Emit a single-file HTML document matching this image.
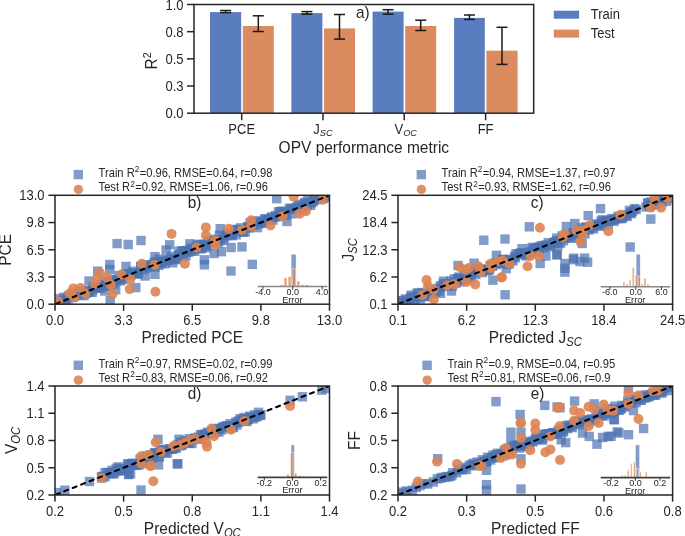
<!DOCTYPE html>
<html><head><meta charset="utf-8"><style>
html,body{margin:0;padding:0;background:#fff;}
svg{display:block;will-change:transform;}
text{font-family:"Liberation Sans", sans-serif;fill:#262626;}
</style></head><body>
<svg width="685" height="536" viewBox="0 0 685 536">
<defs><clipPath id="clipb"><rect x="55.0" y="195.3" width="274.50" height="108.90"/></clipPath><clipPath id="clipc"><rect x="398.0" y="195.3" width="274.60" height="108.90"/></clipPath><clipPath id="clipd"><rect x="55.0" y="386.0" width="274.50" height="109.00"/></clipPath><clipPath id="clipe"><rect x="398.0" y="386.0" width="274.60" height="109.00"/></clipPath></defs>
<rect width="685" height="536" fill="#fff"/>
<rect x="210.00" y="12.10" width="31.20" height="101.10" fill="#597DBF" />
<rect x="242.80" y="26.00" width="31.00" height="87.20" fill="#DA8B5F" />
<rect x="291.40" y="13.10" width="31.00" height="100.10" fill="#597DBF" />
<rect x="324.00" y="28.40" width="31.00" height="84.80" fill="#DA8B5F" />
<rect x="372.60" y="11.60" width="31.00" height="101.60" fill="#597DBF" />
<rect x="405.20" y="26.00" width="31.00" height="87.20" fill="#DA8B5F" />
<rect x="454.10" y="17.90" width="30.70" height="95.30" fill="#597DBF" />
<rect x="486.40" y="50.70" width="31.20" height="62.50" fill="#DA8B5F" />
<line x1="225.60" y1="10.50" x2="225.60" y2="12.60" stroke="#1a1a1a" stroke-width="1.5" />
<line x1="220.10" y1="10.50" x2="231.10" y2="10.50" stroke="#1a1a1a" stroke-width="1.5" />
<line x1="220.10" y1="12.60" x2="231.10" y2="12.60" stroke="#1a1a1a" stroke-width="1.5" />
<line x1="258.30" y1="15.80" x2="258.30" y2="31.50" stroke="#1a1a1a" stroke-width="1.5" />
<line x1="252.80" y1="15.80" x2="263.80" y2="15.80" stroke="#1a1a1a" stroke-width="1.5" />
<line x1="252.80" y1="31.50" x2="263.80" y2="31.50" stroke="#1a1a1a" stroke-width="1.5" />
<line x1="306.90" y1="11.60" x2="306.90" y2="14.20" stroke="#1a1a1a" stroke-width="1.5" />
<line x1="301.40" y1="11.60" x2="312.40" y2="11.60" stroke="#1a1a1a" stroke-width="1.5" />
<line x1="301.40" y1="14.20" x2="312.40" y2="14.20" stroke="#1a1a1a" stroke-width="1.5" />
<line x1="339.50" y1="14.50" x2="339.50" y2="39.10" stroke="#1a1a1a" stroke-width="1.5" />
<line x1="334.00" y1="14.50" x2="345.00" y2="14.50" stroke="#1a1a1a" stroke-width="1.5" />
<line x1="334.00" y1="39.10" x2="345.00" y2="39.10" stroke="#1a1a1a" stroke-width="1.5" />
<line x1="388.10" y1="9.70" x2="388.10" y2="14.20" stroke="#1a1a1a" stroke-width="1.5" />
<line x1="382.60" y1="9.70" x2="393.60" y2="9.70" stroke="#1a1a1a" stroke-width="1.5" />
<line x1="382.60" y1="14.20" x2="393.60" y2="14.20" stroke="#1a1a1a" stroke-width="1.5" />
<line x1="420.70" y1="20.20" x2="420.70" y2="30.50" stroke="#1a1a1a" stroke-width="1.5" />
<line x1="415.20" y1="20.20" x2="426.20" y2="20.20" stroke="#1a1a1a" stroke-width="1.5" />
<line x1="415.20" y1="30.50" x2="426.20" y2="30.50" stroke="#1a1a1a" stroke-width="1.5" />
<line x1="469.45" y1="15.00" x2="469.45" y2="19.40" stroke="#1a1a1a" stroke-width="1.5" />
<line x1="463.95" y1="15.00" x2="474.95" y2="15.00" stroke="#1a1a1a" stroke-width="1.5" />
<line x1="463.95" y1="19.40" x2="474.95" y2="19.40" stroke="#1a1a1a" stroke-width="1.5" />
<line x1="502.00" y1="27.30" x2="502.00" y2="64.40" stroke="#1a1a1a" stroke-width="1.5" />
<line x1="496.50" y1="27.30" x2="507.50" y2="27.30" stroke="#1a1a1a" stroke-width="1.5" />
<line x1="496.50" y1="64.40" x2="507.50" y2="64.40" stroke="#1a1a1a" stroke-width="1.5" />
<rect x="194.0" y="4.5" width="339.70" height="108.70" fill="none" stroke="#262626" stroke-width="1.5"/>
<line x1="187.00" y1="113.20" x2="194.00" y2="113.20" stroke="#262626" stroke-width="1.5" />
<text transform="translate(183.50,118.30) scale(1,1.07)" font-size="13" text-anchor="end" >0.0</text>
<line x1="187.00" y1="86.03" x2="194.00" y2="86.03" stroke="#262626" stroke-width="1.5" />
<text transform="translate(183.50,91.12) scale(1,1.07)" font-size="13" text-anchor="end" >0.3</text>
<line x1="187.00" y1="58.85" x2="194.00" y2="58.85" stroke="#262626" stroke-width="1.5" />
<text transform="translate(183.50,63.95) scale(1,1.07)" font-size="13" text-anchor="end" >0.5</text>
<line x1="187.00" y1="31.67" x2="194.00" y2="31.67" stroke="#262626" stroke-width="1.5" />
<text transform="translate(183.50,36.77) scale(1,1.07)" font-size="13" text-anchor="end" >0.8</text>
<line x1="187.00" y1="4.50" x2="194.00" y2="4.50" stroke="#262626" stroke-width="1.5" />
<text transform="translate(183.50,9.60) scale(1,1.07)" font-size="13" text-anchor="end" >1.0</text>
<line x1="241.70" y1="113.20" x2="241.70" y2="120.20" stroke="#262626" stroke-width="1.5" />
<line x1="323.00" y1="113.20" x2="323.00" y2="120.20" stroke="#262626" stroke-width="1.5" />
<line x1="404.20" y1="113.20" x2="404.20" y2="120.20" stroke="#262626" stroke-width="1.5" />
<line x1="485.60" y1="113.20" x2="485.60" y2="120.20" stroke="#262626" stroke-width="1.5" />
<text transform="translate(241.70,133.90) scale(1,1.07)" font-size="13" text-anchor="middle" >PCE</text>
<text transform="translate(485.60,133.90) scale(1,1.07)" font-size="13" text-anchor="middle" >FF</text>
<text transform="translate(313.30,133.90) scale(1,1.07)" font-size="13" text-anchor="start" >J<tspan font-size="9.2" font-style="italic" dy="1.6">SC</tspan></text>
<text transform="translate(394.50,133.90) scale(1,1.07)" font-size="13" text-anchor="start" >V<tspan font-size="9.2" font-style="italic" dy="1.6">OC</tspan></text>
<text transform="translate(363.85,152.90) scale(1,1.07)" font-size="15.5" text-anchor="middle" >OPV performance metric</text>
<text x="0.00" y="0.00" font-size="15.3" text-anchor="middle" transform="translate(157.2,60.9) rotate(-90) scale(1,1.07)">R<tspan font-size="10.7" dy="-5.5">2</tspan></text>
<text transform="translate(356.00,17.80) scale(1,1.07)" font-size="15.3" text-anchor="start" >a)</text>
<rect x="553.80" y="10.70" width="25.30" height="8.00" fill="#597DBF" />
<rect x="553.80" y="29.60" width="25.30" height="8.00" fill="#DA8B5F" />
<text transform="translate(590.80,19.30) scale(1,1.07)" font-size="13" text-anchor="start" >Train</text>
<text transform="translate(590.80,38.00) scale(1,1.07)" font-size="13" text-anchor="start" >Test</text>
<g clip-path="url(#clipb)">
<g fill="#4C72B0" fill-opacity="0.7">
<rect x="49.6" y="302.0" width="9.4" height="9.4"/>
<rect x="52.2" y="297.2" width="9.4" height="9.4"/>
<rect x="53.1" y="298.0" width="9.4" height="9.4"/>
<rect x="54.8" y="299.9" width="9.4" height="9.4"/>
<rect x="55.1" y="293.9" width="9.4" height="9.4"/>
<rect x="58.0" y="296.2" width="9.4" height="9.4"/>
<rect x="59.2" y="292.6" width="9.4" height="9.4"/>
<rect x="60.0" y="297.2" width="9.4" height="9.4"/>
<rect x="61.0" y="298.3" width="9.4" height="9.4"/>
<rect x="63.7" y="291.1" width="9.4" height="9.4"/>
<rect x="63.4" y="294.2" width="9.4" height="9.4"/>
<rect x="66.6" y="292.5" width="9.4" height="9.4"/>
<rect x="66.5" y="292.3" width="9.4" height="9.4"/>
<rect x="67.6" y="290.3" width="9.4" height="9.4"/>
<rect x="69.8" y="291.7" width="9.4" height="9.4"/>
<rect x="70.8" y="289.2" width="9.4" height="9.4"/>
<rect x="72.1" y="290.3" width="9.4" height="9.4"/>
<rect x="73.7" y="286.6" width="9.4" height="9.4"/>
<rect x="76.2" y="289.9" width="9.4" height="9.4"/>
<rect x="77.2" y="286.7" width="9.4" height="9.4"/>
<rect x="79.3" y="291.0" width="9.4" height="9.4"/>
<rect x="78.9" y="286.6" width="9.4" height="9.4"/>
<rect x="81.5" y="288.8" width="9.4" height="9.4"/>
<rect x="83.4" y="286.2" width="9.4" height="9.4"/>
<rect x="84.6" y="287.4" width="9.4" height="9.4"/>
<rect x="84.9" y="286.2" width="9.4" height="9.4"/>
<rect x="87.5" y="287.6" width="9.4" height="9.4"/>
<rect x="88.1" y="285.1" width="9.4" height="9.4"/>
<rect x="88.6" y="282.1" width="9.4" height="9.4"/>
<rect x="91.5" y="282.8" width="9.4" height="9.4"/>
<rect x="91.6" y="283.2" width="9.4" height="9.4"/>
<rect x="94.1" y="283.5" width="9.4" height="9.4"/>
<rect x="94.8" y="281.3" width="9.4" height="9.4"/>
<rect x="96.5" y="283.2" width="9.4" height="9.4"/>
<rect x="97.9" y="279.8" width="9.4" height="9.4"/>
<rect x="99.3" y="276.7" width="9.4" height="9.4"/>
<rect x="99.8" y="281.0" width="9.4" height="9.4"/>
<rect x="103.1" y="279.6" width="9.4" height="9.4"/>
<rect x="103.3" y="276.0" width="9.4" height="9.4"/>
<rect x="104.9" y="281.3" width="9.4" height="9.4"/>
<rect x="106.8" y="277.6" width="9.4" height="9.4"/>
<rect x="108.4" y="274.8" width="9.4" height="9.4"/>
<rect x="109.1" y="279.4" width="9.4" height="9.4"/>
<rect x="110.7" y="275.3" width="9.4" height="9.4"/>
<rect x="111.4" y="275.4" width="9.4" height="9.4"/>
<rect x="114.2" y="270.9" width="9.4" height="9.4"/>
<rect x="115.3" y="276.3" width="9.4" height="9.4"/>
<rect x="116.9" y="275.1" width="9.4" height="9.4"/>
<rect x="118.1" y="273.0" width="9.4" height="9.4"/>
<rect x="119.0" y="271.8" width="9.4" height="9.4"/>
<rect x="119.4" y="274.4" width="9.4" height="9.4"/>
<rect x="121.8" y="269.0" width="9.4" height="9.4"/>
<rect x="123.1" y="270.5" width="9.4" height="9.4"/>
<rect x="124.2" y="269.0" width="9.4" height="9.4"/>
<rect x="126.0" y="270.4" width="9.4" height="9.4"/>
<rect x="127.5" y="268.7" width="9.4" height="9.4"/>
<rect x="127.8" y="266.5" width="9.4" height="9.4"/>
<rect x="129.5" y="268.4" width="9.4" height="9.4"/>
<rect x="132.2" y="269.4" width="9.4" height="9.4"/>
<rect x="133.5" y="269.0" width="9.4" height="9.4"/>
<rect x="133.8" y="268.6" width="9.4" height="9.4"/>
<rect x="136.0" y="262.6" width="9.4" height="9.4"/>
<rect x="136.1" y="261.6" width="9.4" height="9.4"/>
<rect x="139.0" y="262.7" width="9.4" height="9.4"/>
<rect x="139.1" y="264.9" width="9.4" height="9.4"/>
<rect x="141.0" y="260.3" width="9.4" height="9.4"/>
<rect x="142.0" y="263.0" width="9.4" height="9.4"/>
<rect x="143.4" y="260.7" width="9.4" height="9.4"/>
<rect x="145.9" y="261.4" width="9.4" height="9.4"/>
<rect x="146.5" y="261.0" width="9.4" height="9.4"/>
<rect x="147.3" y="259.8" width="9.4" height="9.4"/>
<rect x="149.5" y="257.8" width="9.4" height="9.4"/>
<rect x="150.3" y="262.4" width="9.4" height="9.4"/>
<rect x="152.5" y="256.9" width="9.4" height="9.4"/>
<rect x="154.1" y="260.7" width="9.4" height="9.4"/>
<rect x="154.3" y="254.4" width="9.4" height="9.4"/>
<rect x="156.0" y="258.9" width="9.4" height="9.4"/>
<rect x="157.4" y="258.2" width="9.4" height="9.4"/>
<rect x="159.9" y="256.5" width="9.4" height="9.4"/>
<rect x="160.3" y="259.0" width="9.4" height="9.4"/>
<rect x="162.9" y="255.2" width="9.4" height="9.4"/>
<rect x="163.1" y="255.6" width="9.4" height="9.4"/>
<rect x="164.9" y="254.5" width="9.4" height="9.4"/>
<rect x="166.1" y="254.3" width="9.4" height="9.4"/>
<rect x="167.0" y="251.4" width="9.4" height="9.4"/>
<rect x="170.2" y="255.0" width="9.4" height="9.4"/>
<rect x="170.3" y="254.3" width="9.4" height="9.4"/>
<rect x="171.7" y="254.3" width="9.4" height="9.4"/>
<rect x="174.0" y="250.0" width="9.4" height="9.4"/>
<rect x="174.4" y="246.5" width="9.4" height="9.4"/>
<rect x="177.1" y="246.2" width="9.4" height="9.4"/>
<rect x="178.3" y="252.3" width="9.4" height="9.4"/>
<rect x="179.2" y="246.0" width="9.4" height="9.4"/>
<rect x="181.2" y="251.3" width="9.4" height="9.4"/>
<rect x="182.3" y="247.4" width="9.4" height="9.4"/>
<rect x="183.1" y="245.6" width="9.4" height="9.4"/>
<rect x="184.1" y="247.4" width="9.4" height="9.4"/>
<rect x="186.0" y="243.4" width="9.4" height="9.4"/>
<rect x="186.7" y="246.3" width="9.4" height="9.4"/>
<rect x="188.5" y="244.5" width="9.4" height="9.4"/>
<rect x="190.0" y="246.6" width="9.4" height="9.4"/>
<rect x="192.5" y="239.9" width="9.4" height="9.4"/>
<rect x="192.5" y="241.6" width="9.4" height="9.4"/>
<rect x="195.5" y="244.3" width="9.4" height="9.4"/>
<rect x="195.6" y="239.7" width="9.4" height="9.4"/>
<rect x="197.6" y="243.6" width="9.4" height="9.4"/>
<rect x="199.6" y="239.5" width="9.4" height="9.4"/>
<rect x="200.9" y="241.4" width="9.4" height="9.4"/>
<rect x="201.5" y="243.0" width="9.4" height="9.4"/>
<rect x="202.4" y="240.6" width="9.4" height="9.4"/>
<rect x="203.5" y="236.0" width="9.4" height="9.4"/>
<rect x="206.5" y="235.8" width="9.4" height="9.4"/>
<rect x="207.6" y="238.0" width="9.4" height="9.4"/>
<rect x="209.2" y="235.8" width="9.4" height="9.4"/>
<rect x="209.6" y="234.7" width="9.4" height="9.4"/>
<rect x="212.0" y="236.4" width="9.4" height="9.4"/>
<rect x="213.6" y="237.9" width="9.4" height="9.4"/>
<rect x="213.4" y="234.9" width="9.4" height="9.4"/>
<rect x="214.7" y="230.6" width="9.4" height="9.4"/>
<rect x="216.0" y="236.0" width="9.4" height="9.4"/>
<rect x="218.9" y="235.2" width="9.4" height="9.4"/>
<rect x="219.4" y="233.1" width="9.4" height="9.4"/>
<rect x="221.7" y="230.9" width="9.4" height="9.4"/>
<rect x="222.6" y="229.2" width="9.4" height="9.4"/>
<rect x="223.1" y="228.9" width="9.4" height="9.4"/>
<rect x="226.1" y="230.5" width="9.4" height="9.4"/>
<rect x="227.6" y="229.2" width="9.4" height="9.4"/>
<rect x="227.7" y="231.0" width="9.4" height="9.4"/>
<rect x="230.2" y="224.9" width="9.4" height="9.4"/>
<rect x="231.2" y="224.9" width="9.4" height="9.4"/>
<rect x="231.5" y="230.1" width="9.4" height="9.4"/>
<rect x="232.8" y="224.9" width="9.4" height="9.4"/>
<rect x="236.1" y="225.6" width="9.4" height="9.4"/>
<rect x="235.7" y="223.2" width="9.4" height="9.4"/>
<rect x="237.4" y="226.8" width="9.4" height="9.4"/>
<rect x="238.5" y="227.5" width="9.4" height="9.4"/>
<rect x="240.5" y="227.4" width="9.4" height="9.4"/>
<rect x="242.9" y="221.9" width="9.4" height="9.4"/>
<rect x="243.0" y="222.7" width="9.4" height="9.4"/>
<rect x="244.1" y="223.4" width="9.4" height="9.4"/>
<rect x="245.4" y="218.2" width="9.4" height="9.4"/>
<rect x="248.7" y="219.7" width="9.4" height="9.4"/>
<rect x="249.3" y="220.3" width="9.4" height="9.4"/>
<rect x="250.1" y="216.9" width="9.4" height="9.4"/>
<rect x="252.7" y="222.9" width="9.4" height="9.4"/>
<rect x="254.2" y="216.2" width="9.4" height="9.4"/>
<rect x="254.1" y="219.3" width="9.4" height="9.4"/>
<rect x="257.1" y="218.2" width="9.4" height="9.4"/>
<rect x="257.9" y="218.5" width="9.4" height="9.4"/>
<rect x="258.4" y="217.0" width="9.4" height="9.4"/>
<rect x="259.9" y="214.4" width="9.4" height="9.4"/>
<rect x="260.9" y="214.1" width="9.4" height="9.4"/>
<rect x="264.1" y="214.7" width="9.4" height="9.4"/>
<rect x="264.8" y="215.6" width="9.4" height="9.4"/>
<rect x="266.8" y="213.2" width="9.4" height="9.4"/>
<rect x="266.9" y="212.2" width="9.4" height="9.4"/>
<rect x="268.3" y="215.4" width="9.4" height="9.4"/>
<rect x="270.9" y="210.9" width="9.4" height="9.4"/>
<rect x="271.2" y="212.1" width="9.4" height="9.4"/>
<rect x="273.1" y="211.9" width="9.4" height="9.4"/>
<rect x="273.8" y="207.2" width="9.4" height="9.4"/>
<rect x="275.2" y="207.0" width="9.4" height="9.4"/>
<rect x="277.2" y="206.4" width="9.4" height="9.4"/>
<rect x="277.7" y="209.9" width="9.4" height="9.4"/>
<rect x="279.5" y="210.5" width="9.4" height="9.4"/>
<rect x="281.3" y="210.5" width="9.4" height="9.4"/>
<rect x="282.0" y="207.3" width="9.4" height="9.4"/>
<rect x="284.7" y="203.7" width="9.4" height="9.4"/>
<rect x="286.4" y="203.8" width="9.4" height="9.4"/>
<rect x="287.5" y="209.1" width="9.4" height="9.4"/>
<rect x="288.9" y="203.8" width="9.4" height="9.4"/>
<rect x="288.9" y="204.6" width="9.4" height="9.4"/>
<rect x="291.9" y="202.5" width="9.4" height="9.4"/>
<rect x="293.3" y="200.8" width="9.4" height="9.4"/>
<rect x="294.7" y="199.5" width="9.4" height="9.4"/>
<rect x="294.9" y="205.2" width="9.4" height="9.4"/>
<rect x="297.3" y="204.7" width="9.4" height="9.4"/>
<rect x="298.8" y="203.0" width="9.4" height="9.4"/>
<rect x="299.9" y="198.3" width="9.4" height="9.4"/>
<rect x="300.8" y="197.6" width="9.4" height="9.4"/>
<rect x="302.7" y="200.7" width="9.4" height="9.4"/>
<rect x="303.2" y="195.8" width="9.4" height="9.4"/>
<rect x="306.0" y="200.6" width="9.4" height="9.4"/>
<rect x="306.6" y="198.2" width="9.4" height="9.4"/>
<rect x="308.6" y="197.0" width="9.4" height="9.4"/>
<rect x="309.1" y="195.6" width="9.4" height="9.4"/>
<rect x="310.2" y="192.8" width="9.4" height="9.4"/>
<rect x="312.4" y="195.0" width="9.4" height="9.4"/>
<rect x="313.6" y="191.9" width="9.4" height="9.4"/>
<rect x="314.6" y="191.9" width="9.4" height="9.4"/>
<rect x="315.6" y="192.2" width="9.4" height="9.4"/>
<rect x="318.4" y="192.7" width="9.4" height="9.4"/>
<rect x="318.9" y="193.7" width="9.4" height="9.4"/>
<rect x="320.0" y="188.8" width="9.4" height="9.4"/>
<rect x="322.0" y="191.8" width="9.4" height="9.4"/>
<rect x="323.6" y="190.8" width="9.4" height="9.4"/>
<rect x="325.1" y="192.3" width="9.4" height="9.4"/>
<rect x="112.4" y="238.9" width="9.4" height="9.4"/>
<rect x="123.5" y="239.8" width="9.4" height="9.4"/>
<rect x="136.3" y="235.8" width="9.4" height="9.4"/>
<rect x="105.1" y="259.8" width="9.4" height="9.4"/>
<rect x="105.1" y="264.8" width="9.4" height="9.4"/>
<rect x="93.0" y="266.5" width="9.4" height="9.4"/>
<rect x="84.3" y="276.3" width="9.4" height="9.4"/>
<rect x="100.0" y="286.3" width="9.4" height="9.4"/>
<rect x="105.5" y="296.0" width="9.4" height="9.4"/>
<rect x="111.0" y="285.0" width="9.4" height="9.4"/>
<rect x="121.3" y="261.7" width="9.4" height="9.4"/>
<rect x="131.1" y="282.9" width="9.4" height="9.4"/>
<rect x="140.4" y="271.3" width="9.4" height="9.4"/>
<rect x="150.2" y="251.9" width="9.4" height="9.4"/>
<rect x="150.2" y="269.6" width="9.4" height="9.4"/>
<rect x="161.4" y="245.3" width="9.4" height="9.4"/>
<rect x="165.0" y="240.1" width="9.4" height="9.4"/>
<rect x="168.0" y="258.1" width="9.4" height="9.4"/>
<rect x="215.5" y="224.0" width="9.4" height="9.4"/>
<rect x="226.4" y="242.8" width="9.4" height="9.4"/>
<rect x="237.3" y="242.2" width="9.4" height="9.4"/>
<rect x="199.7" y="255.1" width="9.4" height="9.4"/>
<rect x="199.7" y="260.1" width="9.4" height="9.4"/>
<rect x="216.7" y="247.0" width="9.4" height="9.4"/>
<rect x="226.3" y="266.3" width="9.4" height="9.4"/>
<rect x="247.6" y="259.7" width="9.4" height="9.4"/>
<rect x="185.2" y="239.1" width="9.4" height="9.4"/>
<rect x="209.4" y="248.8" width="9.4" height="9.4"/>
<rect x="272.0" y="194.0" width="9.4" height="9.4"/>
<rect x="282.3" y="216.8" width="9.4" height="9.4"/>
<rect x="310.8" y="193.1" width="9.4" height="9.4"/>
</g>
<g fill="#DD8452" fill-opacity="0.9">
<circle cx="58.0" cy="301.3" r="5.0"/>
<circle cx="69.6" cy="293.4" r="5.0"/>
<circle cx="73.2" cy="288.5" r="5.0"/>
<circle cx="74.4" cy="297.6" r="5.0"/>
<circle cx="80.5" cy="287.9" r="5.0"/>
<circle cx="85.3" cy="293.4" r="5.0"/>
<circle cx="95.0" cy="283.7" r="5.0"/>
<circle cx="99.9" cy="272.8" r="5.0"/>
<circle cx="97.5" cy="277.6" r="5.0"/>
<circle cx="107.2" cy="277.6" r="5.0"/>
<circle cx="110.8" cy="284.9" r="5.0"/>
<circle cx="112.6" cy="294.0" r="5.0"/>
<circle cx="121.5" cy="274.6" r="5.0"/>
<circle cx="130.3" cy="279.4" r="5.0"/>
<circle cx="129.7" cy="289.1" r="5.0"/>
<circle cx="141.8" cy="263.7" r="5.0"/>
<circle cx="154.6" cy="264.9" r="5.0"/>
<circle cx="155.4" cy="291.7" r="5.0"/>
<circle cx="184.9" cy="263.7" r="5.0"/>
<circle cx="171.5" cy="233.9" r="5.0"/>
<circle cx="205.9" cy="227.4" r="5.0"/>
<circle cx="205.9" cy="235.3" r="5.0"/>
<circle cx="196.5" cy="247.5" r="5.0"/>
<circle cx="215.3" cy="240.2" r="5.0"/>
<circle cx="215.3" cy="245.0" r="5.0"/>
<circle cx="228.7" cy="228.7" r="5.0"/>
<circle cx="242.0" cy="229.9" r="5.0"/>
<circle cx="251.1" cy="220.2" r="5.0"/>
<circle cx="251.1" cy="226.2" r="5.0"/>
<circle cx="293.6" cy="196.6" r="5.0"/>
<circle cx="270.4" cy="225.5" r="5.0"/>
<circle cx="282.7" cy="216.3" r="5.0"/>
<circle cx="299.7" cy="213.8" r="5.0"/>
<circle cx="306.0" cy="211.2" r="5.0"/>
<circle cx="322.7" cy="199.7" r="5.0"/>
</g>
<line x1="55.0" y1="304.2" x2="329.5" y2="195.3" stroke="#000" stroke-width="2.1" stroke-linecap="round" stroke-dasharray="4.1 5.02" stroke-dashoffset="-0.8"/>
</g>
<rect x="291.10" y="254.20" width="5.00" height="32.30" fill="#4C72B0" fill-opacity="0.7" stroke="#fff" stroke-width="0.5" stroke-opacity="0.85"/>
<rect x="280.20" y="284.80" width="2.80" height="1.70" fill="#DD8452" fill-opacity="0.75" stroke="#fff" stroke-width="0.5" stroke-opacity="0.85"/>
<rect x="284.00" y="277.90" width="3.00" height="8.60" fill="#DD8452" fill-opacity="0.75" stroke="#fff" stroke-width="0.5" stroke-opacity="0.85"/>
<rect x="288.10" y="276.80" width="3.00" height="9.70" fill="#DD8452" fill-opacity="0.75" stroke="#fff" stroke-width="0.5" stroke-opacity="0.85"/>
<rect x="292.20" y="268.80" width="3.40" height="17.70" fill="#DD8452" fill-opacity="0.75" stroke="#fff" stroke-width="0.5" stroke-opacity="0.85"/>
<rect x="296.90" y="281.00" width="2.90" height="5.50" fill="#DD8452" fill-opacity="0.75" stroke="#fff" stroke-width="0.5" stroke-opacity="0.85"/>
<rect x="301.00" y="284.80" width="2.80" height="1.70" fill="#DD8452" fill-opacity="0.75" stroke="#fff" stroke-width="0.5" stroke-opacity="0.85"/>
<rect x="305.10" y="284.80" width="3.00" height="1.70" fill="#DD8452" fill-opacity="0.75" stroke="#fff" stroke-width="0.5" stroke-opacity="0.85"/>
<line x1="257.70" y1="286.50" x2="327.30" y2="286.50" stroke="#888888" stroke-width="1.6" />
<line x1="262.90" y1="286.50" x2="262.90" y2="289.70" stroke="#262626" stroke-width="0.9" />
<text transform="translate(262.90,294.90) scale(1,1.07)" font-size="9" text-anchor="middle" >-4.0</text>
<line x1="292.70" y1="286.50" x2="292.70" y2="289.70" stroke="#262626" stroke-width="0.9" />
<text transform="translate(292.70,294.90) scale(1,1.07)" font-size="9" text-anchor="middle" >0.0</text>
<line x1="322.10" y1="286.50" x2="322.10" y2="289.70" stroke="#262626" stroke-width="0.9" />
<text transform="translate(322.10,294.90) scale(1,1.07)" font-size="9" text-anchor="middle" >4.0</text>
<text transform="translate(292.40,302.50) scale(1,1.07)" font-size="9.2" text-anchor="middle" >Error</text>
<rect x="55.0" y="195.3" width="274.50" height="108.90" fill="none" stroke="#262626" stroke-width="1.5"/>
<line x1="55.00" y1="304.20" x2="55.00" y2="310.80" stroke="#262626" stroke-width="1.5" />
<line x1="48.40" y1="304.20" x2="55.00" y2="304.20" stroke="#262626" stroke-width="1.5" />
<text transform="translate(55.00,325.00) scale(1,1.07)" font-size="13" text-anchor="middle" >0.0</text>
<text transform="translate(44.50,309.10) scale(1,1.07)" font-size="13" text-anchor="end" >0.0</text>
<line x1="123.62" y1="304.20" x2="123.62" y2="310.80" stroke="#262626" stroke-width="1.5" />
<line x1="48.40" y1="276.98" x2="55.00" y2="276.98" stroke="#262626" stroke-width="1.5" />
<text transform="translate(123.62,325.00) scale(1,1.07)" font-size="13" text-anchor="middle" >3.3</text>
<text transform="translate(44.50,281.88) scale(1,1.07)" font-size="13" text-anchor="end" >3.3</text>
<line x1="192.25" y1="304.20" x2="192.25" y2="310.80" stroke="#262626" stroke-width="1.5" />
<line x1="48.40" y1="249.75" x2="55.00" y2="249.75" stroke="#262626" stroke-width="1.5" />
<text transform="translate(192.25,325.00) scale(1,1.07)" font-size="13" text-anchor="middle" >6.5</text>
<text transform="translate(44.50,254.65) scale(1,1.07)" font-size="13" text-anchor="end" >6.5</text>
<line x1="260.88" y1="304.20" x2="260.88" y2="310.80" stroke="#262626" stroke-width="1.5" />
<line x1="48.40" y1="222.53" x2="55.00" y2="222.53" stroke="#262626" stroke-width="1.5" />
<text transform="translate(260.88,325.00) scale(1,1.07)" font-size="13" text-anchor="middle" >9.8</text>
<text transform="translate(44.50,227.43) scale(1,1.07)" font-size="13" text-anchor="end" >9.8</text>
<line x1="329.50" y1="304.20" x2="329.50" y2="310.80" stroke="#262626" stroke-width="1.5" />
<line x1="48.40" y1="195.30" x2="55.00" y2="195.30" stroke="#262626" stroke-width="1.5" />
<text transform="translate(329.50,325.00) scale(1,1.07)" font-size="13" text-anchor="middle" >13.0</text>
<text transform="translate(44.50,200.20) scale(1,1.07)" font-size="13" text-anchor="end" >13.0</text>
<text transform="translate(192.25,342.80) scale(1,1.07)" font-size="15.5" text-anchor="middle" >Predicted PCE</text>
<text x="0.00" y="0.00" font-size="15.5" text-anchor="middle" transform="translate(10.7,249.8) rotate(-90) scale(1,1.07)">PCE</text>
<text transform="translate(187.80,208.10) scale(1,1.07)" font-size="15.3" text-anchor="start" >b)</text>
<rect x="73.60" y="169.90" width="9.40" height="9.40" fill="#4C72B0" fill-opacity="0.7"/>
<circle cx="78.4" cy="189.4" r="4.7" fill="#DD8452" fill-opacity="0.9"/>
<text transform="translate(98.60,177.00) scale(1,1.07)" font-size="11.15" text-anchor="start" >Train R<tspan font-size="8.3" dy="-4.4">2</tspan><tspan dy="4.4" dx="0.4">=0.96, RMSE=0.64, r=0.98</tspan></text>
<text transform="translate(98.60,191.20) scale(1,1.07)" font-size="11.15" text-anchor="start" >Test R<tspan font-size="8.3" dy="-4.4">2</tspan><tspan dy="4.4" dx="0.4">=0.92, RMSE=1.06, r=0.96</tspan></text>
<g clip-path="url(#clipc)">
<g fill="#4C72B0" fill-opacity="0.7">
<rect x="394.2" y="302.7" width="9.4" height="9.4"/>
<rect x="393.8" y="296.0" width="9.4" height="9.4"/>
<rect x="396.8" y="300.1" width="9.4" height="9.4"/>
<rect x="397.8" y="296.5" width="9.4" height="9.4"/>
<rect x="399.1" y="298.0" width="9.4" height="9.4"/>
<rect x="400.5" y="294.3" width="9.4" height="9.4"/>
<rect x="401.6" y="295.4" width="9.4" height="9.4"/>
<rect x="403.5" y="299.2" width="9.4" height="9.4"/>
<rect x="405.4" y="295.4" width="9.4" height="9.4"/>
<rect x="405.8" y="292.8" width="9.4" height="9.4"/>
<rect x="406.4" y="290.5" width="9.4" height="9.4"/>
<rect x="408.6" y="292.1" width="9.4" height="9.4"/>
<rect x="409.9" y="295.7" width="9.4" height="9.4"/>
<rect x="411.6" y="292.7" width="9.4" height="9.4"/>
<rect x="412.4" y="288.3" width="9.4" height="9.4"/>
<rect x="414.0" y="288.6" width="9.4" height="9.4"/>
<rect x="415.7" y="294.2" width="9.4" height="9.4"/>
<rect x="417.4" y="287.8" width="9.4" height="9.4"/>
<rect x="419.3" y="291.6" width="9.4" height="9.4"/>
<rect x="420.4" y="291.9" width="9.4" height="9.4"/>
<rect x="421.8" y="290.5" width="9.4" height="9.4"/>
<rect x="422.4" y="291.3" width="9.4" height="9.4"/>
<rect x="425.0" y="284.8" width="9.4" height="9.4"/>
<rect x="426.0" y="288.3" width="9.4" height="9.4"/>
<rect x="426.8" y="286.4" width="9.4" height="9.4"/>
<rect x="428.3" y="288.7" width="9.4" height="9.4"/>
<rect x="429.7" y="287.5" width="9.4" height="9.4"/>
<rect x="430.8" y="287.3" width="9.4" height="9.4"/>
<rect x="433.3" y="283.7" width="9.4" height="9.4"/>
<rect x="434.0" y="286.4" width="9.4" height="9.4"/>
<rect x="435.7" y="282.7" width="9.4" height="9.4"/>
<rect x="436.1" y="281.0" width="9.4" height="9.4"/>
<rect x="438.5" y="279.3" width="9.4" height="9.4"/>
<rect x="440.3" y="279.5" width="9.4" height="9.4"/>
<rect x="441.7" y="279.3" width="9.4" height="9.4"/>
<rect x="443.2" y="281.6" width="9.4" height="9.4"/>
<rect x="443.7" y="279.6" width="9.4" height="9.4"/>
<rect x="445.4" y="279.6" width="9.4" height="9.4"/>
<rect x="446.1" y="276.3" width="9.4" height="9.4"/>
<rect x="447.9" y="281.0" width="9.4" height="9.4"/>
<rect x="449.5" y="274.2" width="9.4" height="9.4"/>
<rect x="451.3" y="278.4" width="9.4" height="9.4"/>
<rect x="452.9" y="274.0" width="9.4" height="9.4"/>
<rect x="454.0" y="272.4" width="9.4" height="9.4"/>
<rect x="455.2" y="273.4" width="9.4" height="9.4"/>
<rect x="455.8" y="277.2" width="9.4" height="9.4"/>
<rect x="456.9" y="274.1" width="9.4" height="9.4"/>
<rect x="459.8" y="271.6" width="9.4" height="9.4"/>
<rect x="459.9" y="275.6" width="9.4" height="9.4"/>
<rect x="461.7" y="273.9" width="9.4" height="9.4"/>
<rect x="462.4" y="270.7" width="9.4" height="9.4"/>
<rect x="464.0" y="272.4" width="9.4" height="9.4"/>
<rect x="465.3" y="273.9" width="9.4" height="9.4"/>
<rect x="466.6" y="271.7" width="9.4" height="9.4"/>
<rect x="467.9" y="267.8" width="9.4" height="9.4"/>
<rect x="470.9" y="266.5" width="9.4" height="9.4"/>
<rect x="471.1" y="269.8" width="9.4" height="9.4"/>
<rect x="472.9" y="264.6" width="9.4" height="9.4"/>
<rect x="475.5" y="264.8" width="9.4" height="9.4"/>
<rect x="475.0" y="265.6" width="9.4" height="9.4"/>
<rect x="477.5" y="267.9" width="9.4" height="9.4"/>
<rect x="477.9" y="264.5" width="9.4" height="9.4"/>
<rect x="479.2" y="264.7" width="9.4" height="9.4"/>
<rect x="482.0" y="266.2" width="9.4" height="9.4"/>
<rect x="483.7" y="265.8" width="9.4" height="9.4"/>
<rect x="485.0" y="264.9" width="9.4" height="9.4"/>
<rect x="485.6" y="260.9" width="9.4" height="9.4"/>
<rect x="487.4" y="261.0" width="9.4" height="9.4"/>
<rect x="487.7" y="261.4" width="9.4" height="9.4"/>
<rect x="490.6" y="258.5" width="9.4" height="9.4"/>
<rect x="491.5" y="259.9" width="9.4" height="9.4"/>
<rect x="492.7" y="257.5" width="9.4" height="9.4"/>
<rect x="495.0" y="257.8" width="9.4" height="9.4"/>
<rect x="495.7" y="258.4" width="9.4" height="9.4"/>
<rect x="495.9" y="258.8" width="9.4" height="9.4"/>
<rect x="497.6" y="254.7" width="9.4" height="9.4"/>
<rect x="498.8" y="254.9" width="9.4" height="9.4"/>
<rect x="500.3" y="257.7" width="9.4" height="9.4"/>
<rect x="502.5" y="259.7" width="9.4" height="9.4"/>
<rect x="504.8" y="259.2" width="9.4" height="9.4"/>
<rect x="504.8" y="254.7" width="9.4" height="9.4"/>
<rect x="506.2" y="255.2" width="9.4" height="9.4"/>
<rect x="508.3" y="256.1" width="9.4" height="9.4"/>
<rect x="509.9" y="251.7" width="9.4" height="9.4"/>
<rect x="510.7" y="253.1" width="9.4" height="9.4"/>
<rect x="511.3" y="249.0" width="9.4" height="9.4"/>
<rect x="513.5" y="249.0" width="9.4" height="9.4"/>
<rect x="515.5" y="249.3" width="9.4" height="9.4"/>
<rect x="515.7" y="248.4" width="9.4" height="9.4"/>
<rect x="517.4" y="248.1" width="9.4" height="9.4"/>
<rect x="519.3" y="249.3" width="9.4" height="9.4"/>
<rect x="520.3" y="250.0" width="9.4" height="9.4"/>
<rect x="521.5" y="251.3" width="9.4" height="9.4"/>
<rect x="524.4" y="249.5" width="9.4" height="9.4"/>
<rect x="524.8" y="247.4" width="9.4" height="9.4"/>
<rect x="526.5" y="243.5" width="9.4" height="9.4"/>
<rect x="527.5" y="246.4" width="9.4" height="9.4"/>
<rect x="528.5" y="242.7" width="9.4" height="9.4"/>
<rect x="531.1" y="244.1" width="9.4" height="9.4"/>
<rect x="531.9" y="247.6" width="9.4" height="9.4"/>
<rect x="533.5" y="242.5" width="9.4" height="9.4"/>
<rect x="535.7" y="242.5" width="9.4" height="9.4"/>
<rect x="535.1" y="244.2" width="9.4" height="9.4"/>
<rect x="536.7" y="240.9" width="9.4" height="9.4"/>
<rect x="539.6" y="243.0" width="9.4" height="9.4"/>
<rect x="539.3" y="240.9" width="9.4" height="9.4"/>
<rect x="541.5" y="240.5" width="9.4" height="9.4"/>
<rect x="542.5" y="240.7" width="9.4" height="9.4"/>
<rect x="543.6" y="238.0" width="9.4" height="9.4"/>
<rect x="545.6" y="242.1" width="9.4" height="9.4"/>
<rect x="546.5" y="240.3" width="9.4" height="9.4"/>
<rect x="548.1" y="238.4" width="9.4" height="9.4"/>
<rect x="549.9" y="237.1" width="9.4" height="9.4"/>
<rect x="552.0" y="236.0" width="9.4" height="9.4"/>
<rect x="552.1" y="233.5" width="9.4" height="9.4"/>
<rect x="553.5" y="238.2" width="9.4" height="9.4"/>
<rect x="556.0" y="238.4" width="9.4" height="9.4"/>
<rect x="557.5" y="231.1" width="9.4" height="9.4"/>
<rect x="558.8" y="236.0" width="9.4" height="9.4"/>
<rect x="560.3" y="233.4" width="9.4" height="9.4"/>
<rect x="561.0" y="232.6" width="9.4" height="9.4"/>
<rect x="563.3" y="230.7" width="9.4" height="9.4"/>
<rect x="564.2" y="231.6" width="9.4" height="9.4"/>
<rect x="566.4" y="233.4" width="9.4" height="9.4"/>
<rect x="567.8" y="233.1" width="9.4" height="9.4"/>
<rect x="567.9" y="228.2" width="9.4" height="9.4"/>
<rect x="569.7" y="227.8" width="9.4" height="9.4"/>
<rect x="571.0" y="230.3" width="9.4" height="9.4"/>
<rect x="573.3" y="229.1" width="9.4" height="9.4"/>
<rect x="574.5" y="225.0" width="9.4" height="9.4"/>
<rect x="575.0" y="230.9" width="9.4" height="9.4"/>
<rect x="576.0" y="226.2" width="9.4" height="9.4"/>
<rect x="577.2" y="223.2" width="9.4" height="9.4"/>
<rect x="580.3" y="229.2" width="9.4" height="9.4"/>
<rect x="581.2" y="222.4" width="9.4" height="9.4"/>
<rect x="581.9" y="222.6" width="9.4" height="9.4"/>
<rect x="584.0" y="225.3" width="9.4" height="9.4"/>
<rect x="585.0" y="223.6" width="9.4" height="9.4"/>
<rect x="585.7" y="223.2" width="9.4" height="9.4"/>
<rect x="588.8" y="224.2" width="9.4" height="9.4"/>
<rect x="588.5" y="221.9" width="9.4" height="9.4"/>
<rect x="591.1" y="219.5" width="9.4" height="9.4"/>
<rect x="592.9" y="220.4" width="9.4" height="9.4"/>
<rect x="593.9" y="219.4" width="9.4" height="9.4"/>
<rect x="595.9" y="221.6" width="9.4" height="9.4"/>
<rect x="596.4" y="216.4" width="9.4" height="9.4"/>
<rect x="597.6" y="215.1" width="9.4" height="9.4"/>
<rect x="599.3" y="220.6" width="9.4" height="9.4"/>
<rect x="599.9" y="217.4" width="9.4" height="9.4"/>
<rect x="601.9" y="216.1" width="9.4" height="9.4"/>
<rect x="603.7" y="219.4" width="9.4" height="9.4"/>
<rect x="605.1" y="215.5" width="9.4" height="9.4"/>
<rect x="607.0" y="213.9" width="9.4" height="9.4"/>
<rect x="608.0" y="215.7" width="9.4" height="9.4"/>
<rect x="609.4" y="216.5" width="9.4" height="9.4"/>
<rect x="609.7" y="214.3" width="9.4" height="9.4"/>
<rect x="611.5" y="214.1" width="9.4" height="9.4"/>
<rect x="614.1" y="213.3" width="9.4" height="9.4"/>
<rect x="613.5" y="211.5" width="9.4" height="9.4"/>
<rect x="616.3" y="214.0" width="9.4" height="9.4"/>
<rect x="617.6" y="212.9" width="9.4" height="9.4"/>
<rect x="617.7" y="213.3" width="9.4" height="9.4"/>
<rect x="620.6" y="210.3" width="9.4" height="9.4"/>
<rect x="622.3" y="211.8" width="9.4" height="9.4"/>
<rect x="622.1" y="210.7" width="9.4" height="9.4"/>
<rect x="624.8" y="205.7" width="9.4" height="9.4"/>
<rect x="626.2" y="208.0" width="9.4" height="9.4"/>
<rect x="626.5" y="209.0" width="9.4" height="9.4"/>
<rect x="627.8" y="207.0" width="9.4" height="9.4"/>
<rect x="629.8" y="203.9" width="9.4" height="9.4"/>
<rect x="631.4" y="204.9" width="9.4" height="9.4"/>
<rect x="641.2" y="202.3" width="9.4" height="9.4"/>
<rect x="643.0" y="198.0" width="9.4" height="9.4"/>
<rect x="643.1" y="199.1" width="9.4" height="9.4"/>
<rect x="645.0" y="201.7" width="9.4" height="9.4"/>
<rect x="647.3" y="199.7" width="9.4" height="9.4"/>
<rect x="648.4" y="199.5" width="9.4" height="9.4"/>
<rect x="649.0" y="197.4" width="9.4" height="9.4"/>
<rect x="650.4" y="200.2" width="9.4" height="9.4"/>
<rect x="651.6" y="199.0" width="9.4" height="9.4"/>
<rect x="653.0" y="197.5" width="9.4" height="9.4"/>
<rect x="655.0" y="194.9" width="9.4" height="9.4"/>
<rect x="657.4" y="191.6" width="9.4" height="9.4"/>
<rect x="657.2" y="197.5" width="9.4" height="9.4"/>
<rect x="659.5" y="191.0" width="9.4" height="9.4"/>
<rect x="661.9" y="196.6" width="9.4" height="9.4"/>
<rect x="661.5" y="192.3" width="9.4" height="9.4"/>
<rect x="663.0" y="190.9" width="9.4" height="9.4"/>
<rect x="665.3" y="189.3" width="9.4" height="9.4"/>
<rect x="666.9" y="187.9" width="9.4" height="9.4"/>
<rect x="667.2" y="192.9" width="9.4" height="9.4"/>
<rect x="453.3" y="260.8" width="9.4" height="9.4"/>
<rect x="438.8" y="276.5" width="9.4" height="9.4"/>
<rect x="446.8" y="286.3" width="9.4" height="9.4"/>
<rect x="435.8" y="288.7" width="9.4" height="9.4"/>
<rect x="479.1" y="235.5" width="9.4" height="9.4"/>
<rect x="500.3" y="234.3" width="9.4" height="9.4"/>
<rect x="524.6" y="222.1" width="9.4" height="9.4"/>
<rect x="491.8" y="250.6" width="9.4" height="9.4"/>
<rect x="517.3" y="244.0" width="9.4" height="9.4"/>
<rect x="488.2" y="275.5" width="9.4" height="9.4"/>
<rect x="469.4" y="258.5" width="9.4" height="9.4"/>
<rect x="501.5" y="264.0" width="9.4" height="9.4"/>
<rect x="583.5" y="210.9" width="9.4" height="9.4"/>
<rect x="561.7" y="221.8" width="9.4" height="9.4"/>
<rect x="570.2" y="218.8" width="9.4" height="9.4"/>
<rect x="577.5" y="238.8" width="9.4" height="9.4"/>
<rect x="552.0" y="249.7" width="9.4" height="9.4"/>
<rect x="569.0" y="253.4" width="9.4" height="9.4"/>
<rect x="579.9" y="253.4" width="9.4" height="9.4"/>
<rect x="553.2" y="241.3" width="9.4" height="9.4"/>
<rect x="595.8" y="203.9" width="9.4" height="9.4"/>
<rect x="625.5" y="242.3" width="9.4" height="9.4"/>
<rect x="646.1" y="214.4" width="9.4" height="9.4"/>
<rect x="646.1" y="197.4" width="9.4" height="9.4"/>
<rect x="664.3" y="193.8" width="9.4" height="9.4"/>
<rect x="500.4" y="290.1" width="9.4" height="9.4"/>
<rect x="560.2" y="258.8" width="9.4" height="9.4"/>
<rect x="560.2" y="263.6" width="9.4" height="9.4"/>
<rect x="560.2" y="267.4" width="9.4" height="9.4"/>
<rect x="568.7" y="255.0" width="9.4" height="9.4"/>
<rect x="575.3" y="256.9" width="9.4" height="9.4"/>
<rect x="582.9" y="257.5" width="9.4" height="9.4"/>
<rect x="552.6" y="250.3" width="9.4" height="9.4"/>
<rect x="535.5" y="258.8" width="9.4" height="9.4"/>
<rect x="541.2" y="251.3" width="9.4" height="9.4"/>
</g>
<g fill="#DD8452" fill-opacity="0.9">
<circle cx="426.5" cy="280.0" r="5.0"/>
<circle cx="428.0" cy="286.0" r="5.0"/>
<circle cx="422.3" cy="295.2" r="5.0"/>
<circle cx="433.8" cy="289.7" r="5.0"/>
<circle cx="433.8" cy="299.4" r="5.0"/>
<circle cx="447.1" cy="285.5" r="5.0"/>
<circle cx="454.4" cy="284.3" r="5.0"/>
<circle cx="459.9" cy="267.3" r="5.0"/>
<circle cx="465.3" cy="269.7" r="5.0"/>
<circle cx="466.5" cy="282.0" r="5.0"/>
<circle cx="468.6" cy="268.1" r="5.0"/>
<circle cx="478.3" cy="266.2" r="5.0"/>
<circle cx="480.8" cy="271.7" r="5.0"/>
<circle cx="475.3" cy="284.4" r="5.0"/>
<circle cx="490.5" cy="263.8" r="5.0"/>
<circle cx="491.1" cy="268.1" r="5.0"/>
<circle cx="497.1" cy="261.4" r="5.0"/>
<circle cx="502.6" cy="260.8" r="5.0"/>
<circle cx="509.3" cy="263.8" r="5.0"/>
<circle cx="502.0" cy="277.2" r="5.0"/>
<circle cx="527.5" cy="266.2" r="5.0"/>
<circle cx="530.5" cy="255.9" r="5.0"/>
<circle cx="539.9" cy="227.8" r="5.0"/>
<circle cx="564.6" cy="233.8" r="5.0"/>
<circle cx="562.8" cy="237.5" r="5.0"/>
<circle cx="576.7" cy="230.2" r="5.0"/>
<circle cx="583.4" cy="230.2" r="5.0"/>
<circle cx="589.4" cy="225.3" r="5.0"/>
<circle cx="582.2" cy="233.8" r="5.0"/>
<circle cx="580.3" cy="241.7" r="5.0"/>
<circle cx="539.1" cy="256.3" r="5.0"/>
<circle cx="608.3" cy="231.2" r="5.0"/>
<circle cx="620.5" cy="214.8" r="5.0"/>
<circle cx="650.8" cy="207.6" r="5.0"/>
<circle cx="661.1" cy="207.6" r="5.0"/>
<circle cx="654.4" cy="198.5" r="5.0"/>
<circle cx="667.8" cy="197.9" r="5.0"/>
<circle cx="501.3" cy="277.4" r="5.0"/>
</g>
<line x1="398.0" y1="304.2" x2="672.6" y2="195.3" stroke="#000" stroke-width="2.1" stroke-linecap="round" stroke-dasharray="4.1 5.02" stroke-dashoffset="-0.8"/>
</g>
<rect x="636.10" y="254.20" width="4.10" height="32.50" fill="#4C72B0" fill-opacity="0.7" stroke="#fff" stroke-width="0.5" stroke-opacity="0.85"/>
<rect x="617.20" y="285.60" width="1.70" height="1.10" fill="#DD8452" fill-opacity="0.75" stroke="#fff" stroke-width="0.5" stroke-opacity="0.85"/>
<rect x="623.00" y="282.00" width="1.90" height="4.70" fill="#DD8452" fill-opacity="0.75" stroke="#fff" stroke-width="0.5" stroke-opacity="0.85"/>
<rect x="626.10" y="284.00" width="1.90" height="2.70" fill="#DD8452" fill-opacity="0.75" stroke="#fff" stroke-width="0.5" stroke-opacity="0.85"/>
<rect x="629.10" y="279.80" width="1.80" height="6.90" fill="#DD8452" fill-opacity="0.75" stroke="#fff" stroke-width="0.5" stroke-opacity="0.85"/>
<rect x="632.20" y="267.30" width="1.90" height="19.40" fill="#DD8452" fill-opacity="0.75" stroke="#fff" stroke-width="0.5" stroke-opacity="0.85"/>
<rect x="635.20" y="275.00" width="2.00" height="11.70" fill="#DD8452" fill-opacity="0.75" stroke="#fff" stroke-width="0.5" stroke-opacity="0.85"/>
<rect x="638.10" y="276.30" width="2.10" height="10.40" fill="#DD8452" fill-opacity="0.75" stroke="#fff" stroke-width="0.5" stroke-opacity="0.85"/>
<rect x="641.00" y="284.00" width="1.90" height="2.70" fill="#DD8452" fill-opacity="0.75" stroke="#fff" stroke-width="0.5" stroke-opacity="0.85"/>
<rect x="644.00" y="278.20" width="2.00" height="8.50" fill="#DD8452" fill-opacity="0.75" stroke="#fff" stroke-width="0.5" stroke-opacity="0.85"/>
<rect x="647.00" y="284.00" width="1.90" height="2.70" fill="#DD8452" fill-opacity="0.75" stroke="#fff" stroke-width="0.5" stroke-opacity="0.85"/>
<line x1="600.70" y1="286.70" x2="670.30" y2="286.70" stroke="#888888" stroke-width="1.6" />
<line x1="609.80" y1="286.70" x2="609.80" y2="289.90" stroke="#262626" stroke-width="0.9" />
<text transform="translate(609.80,295.10) scale(1,1.07)" font-size="9" text-anchor="middle" >-6.0</text>
<line x1="635.80" y1="286.70" x2="635.80" y2="289.90" stroke="#262626" stroke-width="0.9" />
<text transform="translate(635.80,295.10) scale(1,1.07)" font-size="9" text-anchor="middle" >0.0</text>
<line x1="661.40" y1="286.70" x2="661.40" y2="289.90" stroke="#262626" stroke-width="0.9" />
<text transform="translate(661.40,295.10) scale(1,1.07)" font-size="9" text-anchor="middle" >6.0</text>
<text transform="translate(635.20,302.70) scale(1,1.07)" font-size="9.2" text-anchor="middle" >Error</text>
<rect x="398.0" y="195.3" width="274.60" height="108.90" fill="none" stroke="#262626" stroke-width="1.5"/>
<line x1="398.00" y1="304.20" x2="398.00" y2="310.80" stroke="#262626" stroke-width="1.5" />
<line x1="391.40" y1="304.20" x2="398.00" y2="304.20" stroke="#262626" stroke-width="1.5" />
<text transform="translate(398.00,325.00) scale(1,1.07)" font-size="13" text-anchor="middle" >0.1</text>
<text transform="translate(387.50,309.10) scale(1,1.07)" font-size="13" text-anchor="end" >0.1</text>
<line x1="466.65" y1="304.20" x2="466.65" y2="310.80" stroke="#262626" stroke-width="1.5" />
<line x1="391.40" y1="276.98" x2="398.00" y2="276.98" stroke="#262626" stroke-width="1.5" />
<text transform="translate(466.65,325.00) scale(1,1.07)" font-size="13" text-anchor="middle" >6.2</text>
<text transform="translate(387.50,281.88) scale(1,1.07)" font-size="13" text-anchor="end" >6.2</text>
<line x1="535.30" y1="304.20" x2="535.30" y2="310.80" stroke="#262626" stroke-width="1.5" />
<line x1="391.40" y1="249.75" x2="398.00" y2="249.75" stroke="#262626" stroke-width="1.5" />
<text transform="translate(535.30,325.00) scale(1,1.07)" font-size="13" text-anchor="middle" >12.3</text>
<text transform="translate(387.50,254.65) scale(1,1.07)" font-size="13" text-anchor="end" >12.3</text>
<line x1="603.95" y1="304.20" x2="603.95" y2="310.80" stroke="#262626" stroke-width="1.5" />
<line x1="391.40" y1="222.53" x2="398.00" y2="222.53" stroke="#262626" stroke-width="1.5" />
<text transform="translate(603.95,325.00) scale(1,1.07)" font-size="13" text-anchor="middle" >18.4</text>
<text transform="translate(387.50,227.43) scale(1,1.07)" font-size="13" text-anchor="end" >18.4</text>
<line x1="672.60" y1="304.20" x2="672.60" y2="310.80" stroke="#262626" stroke-width="1.5" />
<line x1="391.40" y1="195.30" x2="398.00" y2="195.30" stroke="#262626" stroke-width="1.5" />
<text transform="translate(672.60,325.00) scale(1,1.07)" font-size="13" text-anchor="middle" >24.5</text>
<text transform="translate(387.50,200.20) scale(1,1.07)" font-size="13" text-anchor="end" >24.5</text>
<text transform="translate(535.30,342.80) scale(1,1.07)" font-size="15.5" text-anchor="middle" >Predicted J<tspan font-size="11.2" font-style="italic" dy="3.0">SC</tspan></text>
<text x="0.00" y="0.00" font-size="15.5" text-anchor="middle" transform="translate(353.7,249.8) rotate(-90) scale(1,1.07)">J<tspan font-size="11.2" font-style="italic" dy="3.0">SC</tspan></text>
<text transform="translate(530.80,208.10) scale(1,1.07)" font-size="15.3" text-anchor="start" >c)</text>
<rect x="416.60" y="169.90" width="9.40" height="9.40" fill="#4C72B0" fill-opacity="0.7"/>
<circle cx="421.4" cy="189.4" r="4.7" fill="#DD8452" fill-opacity="0.9"/>
<text transform="translate(441.60,177.00) scale(1,1.07)" font-size="11.15" text-anchor="start" >Train R<tspan font-size="8.3" dy="-4.4">2</tspan><tspan dy="4.4" dx="0.4">=0.94, RMSE=1.37, r=0.97</tspan></text>
<text transform="translate(441.60,191.20) scale(1,1.07)" font-size="11.15" text-anchor="start" >Test R<tspan font-size="8.3" dy="-4.4">2</tspan><tspan dy="4.4" dx="0.4">=0.93, RMSE=1.62, r=0.96</tspan></text>
<g clip-path="url(#clipd)">
<g fill="#4C72B0" fill-opacity="0.7">
<rect x="96.8" y="471.9" width="9.4" height="9.4"/>
<rect x="98.4" y="471.7" width="9.4" height="9.4"/>
<rect x="100.4" y="467.9" width="9.4" height="9.4"/>
<rect x="100.5" y="472.0" width="9.4" height="9.4"/>
<rect x="102.4" y="467.8" width="9.4" height="9.4"/>
<rect x="105.3" y="468.7" width="9.4" height="9.4"/>
<rect x="106.4" y="468.2" width="9.4" height="9.4"/>
<rect x="107.4" y="465.6" width="9.4" height="9.4"/>
<rect x="108.8" y="469.4" width="9.4" height="9.4"/>
<rect x="109.9" y="468.1" width="9.4" height="9.4"/>
<rect x="111.6" y="463.5" width="9.4" height="9.4"/>
<rect x="113.2" y="466.1" width="9.4" height="9.4"/>
<rect x="113.7" y="462.2" width="9.4" height="9.4"/>
<rect x="116.2" y="464.2" width="9.4" height="9.4"/>
<rect x="117.3" y="466.1" width="9.4" height="9.4"/>
<rect x="118.7" y="465.8" width="9.4" height="9.4"/>
<rect x="119.5" y="464.5" width="9.4" height="9.4"/>
<rect x="121.0" y="464.8" width="9.4" height="9.4"/>
<rect x="123.3" y="459.2" width="9.4" height="9.4"/>
<rect x="123.2" y="459.4" width="9.4" height="9.4"/>
<rect x="126.2" y="460.1" width="9.4" height="9.4"/>
<rect x="127.0" y="458.8" width="9.4" height="9.4"/>
<rect x="128.1" y="458.7" width="9.4" height="9.4"/>
<rect x="129.2" y="459.4" width="9.4" height="9.4"/>
<rect x="131.1" y="460.7" width="9.4" height="9.4"/>
<rect x="132.7" y="460.3" width="9.4" height="9.4"/>
<rect x="134.4" y="460.1" width="9.4" height="9.4"/>
<rect x="135.4" y="454.6" width="9.4" height="9.4"/>
<rect x="137.2" y="458.9" width="9.4" height="9.4"/>
<rect x="138.7" y="455.9" width="9.4" height="9.4"/>
<rect x="139.7" y="453.2" width="9.4" height="9.4"/>
<rect x="141.4" y="454.8" width="9.4" height="9.4"/>
<rect x="141.7" y="451.2" width="9.4" height="9.4"/>
<rect x="144.2" y="456.2" width="9.4" height="9.4"/>
<rect x="144.1" y="454.5" width="9.4" height="9.4"/>
<rect x="146.1" y="450.1" width="9.4" height="9.4"/>
<rect x="147.3" y="453.2" width="9.4" height="9.4"/>
<rect x="149.8" y="448.3" width="9.4" height="9.4"/>
<rect x="150.7" y="447.8" width="9.4" height="9.4"/>
<rect x="152.3" y="448.9" width="9.4" height="9.4"/>
<rect x="154.1" y="452.3" width="9.4" height="9.4"/>
<rect x="154.7" y="451.8" width="9.4" height="9.4"/>
<rect x="155.7" y="445.8" width="9.4" height="9.4"/>
<rect x="157.7" y="444.9" width="9.4" height="9.4"/>
<rect x="158.3" y="446.6" width="9.4" height="9.4"/>
<rect x="160.5" y="444.6" width="9.4" height="9.4"/>
<rect x="160.8" y="448.3" width="9.4" height="9.4"/>
<rect x="162.7" y="448.3" width="9.4" height="9.4"/>
<rect x="165.3" y="444.2" width="9.4" height="9.4"/>
<rect x="165.8" y="444.5" width="9.4" height="9.4"/>
<rect x="167.6" y="444.4" width="9.4" height="9.4"/>
<rect x="168.8" y="444.0" width="9.4" height="9.4"/>
<rect x="171.0" y="442.8" width="9.4" height="9.4"/>
<rect x="171.4" y="443.5" width="9.4" height="9.4"/>
<rect x="172.4" y="440.4" width="9.4" height="9.4"/>
<rect x="175.3" y="441.2" width="9.4" height="9.4"/>
<rect x="175.8" y="437.6" width="9.4" height="9.4"/>
<rect x="176.9" y="440.4" width="9.4" height="9.4"/>
<rect x="177.5" y="440.1" width="9.4" height="9.4"/>
<rect x="180.2" y="436.2" width="9.4" height="9.4"/>
<rect x="181.6" y="438.1" width="9.4" height="9.4"/>
<rect x="183.1" y="436.8" width="9.4" height="9.4"/>
<rect x="184.5" y="438.6" width="9.4" height="9.4"/>
<rect x="184.5" y="434.0" width="9.4" height="9.4"/>
<rect x="187.3" y="438.8" width="9.4" height="9.4"/>
<rect x="187.8" y="435.2" width="9.4" height="9.4"/>
<rect x="189.9" y="433.9" width="9.4" height="9.4"/>
<rect x="190.8" y="433.3" width="9.4" height="9.4"/>
<rect x="192.2" y="434.4" width="9.4" height="9.4"/>
<rect x="193.5" y="432.5" width="9.4" height="9.4"/>
<rect x="195.8" y="429.9" width="9.4" height="9.4"/>
<rect x="196.8" y="433.6" width="9.4" height="9.4"/>
<rect x="197.7" y="429.9" width="9.4" height="9.4"/>
<rect x="200.1" y="429.5" width="9.4" height="9.4"/>
<rect x="200.3" y="430.1" width="9.4" height="9.4"/>
<rect x="202.7" y="427.6" width="9.4" height="9.4"/>
<rect x="203.3" y="428.4" width="9.4" height="9.4"/>
<rect x="205.8" y="428.5" width="9.4" height="9.4"/>
<rect x="207.2" y="426.3" width="9.4" height="9.4"/>
<rect x="207.6" y="428.6" width="9.4" height="9.4"/>
<rect x="210.1" y="426.9" width="9.4" height="9.4"/>
<rect x="210.2" y="424.3" width="9.4" height="9.4"/>
<rect x="212.2" y="424.2" width="9.4" height="9.4"/>
<rect x="214.1" y="427.5" width="9.4" height="9.4"/>
<rect x="214.3" y="423.6" width="9.4" height="9.4"/>
<rect x="216.9" y="425.2" width="9.4" height="9.4"/>
<rect x="218.3" y="422.9" width="9.4" height="9.4"/>
<rect x="218.4" y="422.0" width="9.4" height="9.4"/>
<rect x="221.1" y="421.3" width="9.4" height="9.4"/>
<rect x="221.6" y="421.7" width="9.4" height="9.4"/>
<rect x="223.1" y="421.1" width="9.4" height="9.4"/>
<rect x="225.5" y="419.0" width="9.4" height="9.4"/>
<rect x="225.1" y="423.2" width="9.4" height="9.4"/>
<rect x="228.3" y="422.9" width="9.4" height="9.4"/>
<rect x="228.8" y="422.1" width="9.4" height="9.4"/>
<rect x="231.2" y="417.2" width="9.4" height="9.4"/>
<rect x="232.2" y="420.3" width="9.4" height="9.4"/>
<rect x="233.4" y="417.8" width="9.4" height="9.4"/>
<rect x="234.1" y="416.2" width="9.4" height="9.4"/>
<rect x="235.4" y="414.0" width="9.4" height="9.4"/>
<rect x="237.5" y="414.8" width="9.4" height="9.4"/>
<rect x="239.3" y="412.8" width="9.4" height="9.4"/>
<rect x="240.9" y="416.1" width="9.4" height="9.4"/>
<rect x="242.3" y="416.8" width="9.4" height="9.4"/>
<rect x="243.7" y="414.3" width="9.4" height="9.4"/>
<rect x="243.3" y="414.7" width="9.4" height="9.4"/>
<rect x="245.0" y="411.5" width="9.4" height="9.4"/>
<rect x="247.4" y="412.3" width="9.4" height="9.4"/>
<rect x="248.3" y="414.2" width="9.4" height="9.4"/>
<rect x="250.1" y="410.1" width="9.4" height="9.4"/>
<rect x="250.8" y="412.7" width="9.4" height="9.4"/>
<rect x="252.7" y="411.6" width="9.4" height="9.4"/>
<rect x="253.8" y="407.6" width="9.4" height="9.4"/>
<rect x="255.6" y="410.7" width="9.4" height="9.4"/>
<rect x="256.2" y="410.0" width="9.4" height="9.4"/>
<rect x="60.2" y="485.5" width="9.4" height="9.4"/>
<rect x="52.1" y="487.9" width="9.4" height="9.4"/>
<rect x="84.8" y="476.8" width="9.4" height="9.4"/>
<rect x="97.0" y="473.3" width="9.4" height="9.4"/>
<rect x="123.9" y="469.8" width="9.4" height="9.4"/>
<rect x="153.3" y="434.6" width="9.4" height="9.4"/>
<rect x="173.2" y="459.1" width="9.4" height="9.4"/>
<rect x="174.3" y="434.6" width="9.4" height="9.4"/>
<rect x="125.9" y="469.0" width="9.4" height="9.4"/>
<rect x="285.4" y="395.6" width="9.4" height="9.4"/>
<rect x="297.7" y="392.1" width="9.4" height="9.4"/>
<rect x="317.1" y="385.4" width="9.4" height="9.4"/>
<rect x="321.7" y="383.9" width="9.4" height="9.4"/>
<rect x="136.3" y="485.3" width="9.4" height="9.4"/>
<rect x="124.1" y="469.6" width="9.4" height="9.4"/>
<rect x="172.5" y="459.1" width="9.4" height="9.4"/>
<rect x="153.8" y="460.2" width="9.4" height="9.4"/>
</g>
<g fill="#DD8452" fill-opacity="0.9">
<circle cx="101.7" cy="478.0" r="5.0"/>
<circle cx="155.7" cy="442.2" r="5.0"/>
<circle cx="160.9" cy="452.1" r="5.0"/>
<circle cx="141.1" cy="456.2" r="5.0"/>
<circle cx="141.1" cy="463.2" r="5.0"/>
<circle cx="148.7" cy="455.0" r="5.0"/>
<circle cx="151.0" cy="465.5" r="5.0"/>
<circle cx="153.3" cy="481.3" r="5.0"/>
<circle cx="173.2" cy="446.3" r="5.0"/>
<circle cx="180.2" cy="445.1" r="5.0"/>
<circle cx="184.9" cy="442.8" r="5.0"/>
<circle cx="190.7" cy="439.9" r="5.0"/>
<circle cx="195.4" cy="438.7" r="5.0"/>
<circle cx="211.5" cy="428.5" r="5.0"/>
<circle cx="214.0" cy="436.2" r="5.0"/>
<circle cx="203.5" cy="439.7" r="5.0"/>
<circle cx="207.0" cy="446.7" r="5.0"/>
<circle cx="231.0" cy="429.8" r="5.0"/>
<circle cx="244.4" cy="421.0" r="5.0"/>
<circle cx="290.1" cy="406.0" r="5.0"/>
<circle cx="150.4" cy="466.1" r="5.0"/>
<circle cx="206.5" cy="443.0" r="5.0"/>
</g>
<line x1="55.0" y1="495.0" x2="329.5" y2="386.0" stroke="#000" stroke-width="2.1" stroke-linecap="round" stroke-dasharray="4.1 5.02" stroke-dashoffset="-0.8"/>
</g>
<rect x="291.10" y="444.90" width="3.30" height="32.50" fill="#4C72B0" fill-opacity="0.7" stroke="#fff" stroke-width="0.5" stroke-opacity="0.85"/>
<rect x="286.80" y="474.20" width="2.20" height="3.20" fill="#DD8452" fill-opacity="0.75" stroke="#fff" stroke-width="0.5" stroke-opacity="0.85"/>
<rect x="290.60" y="452.60" width="2.50" height="24.80" fill="#DD8452" fill-opacity="0.75" stroke="#fff" stroke-width="0.5" stroke-opacity="0.85"/>
<rect x="294.40" y="473.00" width="2.50" height="4.40" fill="#DD8452" fill-opacity="0.75" stroke="#fff" stroke-width="0.5" stroke-opacity="0.85"/>
<rect x="298.20" y="475.30" width="2.60" height="2.10" fill="#DD8452" fill-opacity="0.75" stroke="#fff" stroke-width="0.5" stroke-opacity="0.85"/>
<rect x="302.30" y="476.10" width="2.50" height="1.30" fill="#DD8452" fill-opacity="0.75" stroke="#fff" stroke-width="0.5" stroke-opacity="0.85"/>
<line x1="257.70" y1="477.40" x2="327.30" y2="477.40" stroke="#404040" stroke-width="1.6" />
<line x1="264.30" y1="477.40" x2="264.30" y2="480.60" stroke="#262626" stroke-width="0.9" />
<text transform="translate(264.30,485.80) scale(1,1.07)" font-size="9" text-anchor="middle" >-0.2</text>
<line x1="292.40" y1="477.40" x2="292.40" y2="480.60" stroke="#262626" stroke-width="0.9" />
<text transform="translate(292.40,485.80) scale(1,1.07)" font-size="9" text-anchor="middle" >0.0</text>
<line x1="320.70" y1="477.40" x2="320.70" y2="480.60" stroke="#262626" stroke-width="0.9" />
<text transform="translate(320.70,485.80) scale(1,1.07)" font-size="9" text-anchor="middle" >0.2</text>
<text transform="translate(292.40,493.40) scale(1,1.07)" font-size="9.2" text-anchor="middle" >Error</text>
<rect x="55.0" y="386.0" width="274.50" height="109.00" fill="none" stroke="#262626" stroke-width="1.5"/>
<line x1="55.00" y1="495.00" x2="55.00" y2="501.60" stroke="#262626" stroke-width="1.5" />
<line x1="48.40" y1="495.00" x2="55.00" y2="495.00" stroke="#262626" stroke-width="1.5" />
<text transform="translate(55.00,515.80) scale(1,1.07)" font-size="13" text-anchor="middle" >0.2</text>
<text transform="translate(44.50,499.90) scale(1,1.07)" font-size="13" text-anchor="end" >0.2</text>
<line x1="123.62" y1="495.00" x2="123.62" y2="501.60" stroke="#262626" stroke-width="1.5" />
<line x1="48.40" y1="467.75" x2="55.00" y2="467.75" stroke="#262626" stroke-width="1.5" />
<text transform="translate(123.62,515.80) scale(1,1.07)" font-size="13" text-anchor="middle" >0.5</text>
<text transform="translate(44.50,472.65) scale(1,1.07)" font-size="13" text-anchor="end" >0.5</text>
<line x1="192.25" y1="495.00" x2="192.25" y2="501.60" stroke="#262626" stroke-width="1.5" />
<line x1="48.40" y1="440.50" x2="55.00" y2="440.50" stroke="#262626" stroke-width="1.5" />
<text transform="translate(192.25,515.80) scale(1,1.07)" font-size="13" text-anchor="middle" >0.8</text>
<text transform="translate(44.50,445.40) scale(1,1.07)" font-size="13" text-anchor="end" >0.8</text>
<line x1="260.88" y1="495.00" x2="260.88" y2="501.60" stroke="#262626" stroke-width="1.5" />
<line x1="48.40" y1="413.25" x2="55.00" y2="413.25" stroke="#262626" stroke-width="1.5" />
<text transform="translate(260.88,515.80) scale(1,1.07)" font-size="13" text-anchor="middle" >1.1</text>
<text transform="translate(44.50,418.15) scale(1,1.07)" font-size="13" text-anchor="end" >1.1</text>
<line x1="329.50" y1="495.00" x2="329.50" y2="501.60" stroke="#262626" stroke-width="1.5" />
<line x1="48.40" y1="386.00" x2="55.00" y2="386.00" stroke="#262626" stroke-width="1.5" />
<text transform="translate(329.50,515.80) scale(1,1.07)" font-size="13" text-anchor="middle" >1.4</text>
<text transform="translate(44.50,390.90) scale(1,1.07)" font-size="13" text-anchor="end" >1.4</text>
<text transform="translate(192.25,533.60) scale(1,1.07)" font-size="15.5" text-anchor="middle" >Predicted V<tspan font-size="11.2" font-style="italic" dy="3.0">OC</tspan></text>
<text x="0.00" y="0.00" font-size="15.5" text-anchor="middle" transform="translate(17.1,440.5) rotate(-90) scale(1,1.07)">V<tspan font-size="11.2" font-style="italic" dy="3.0">OC</tspan></text>
<text transform="translate(187.80,398.80) scale(1,1.07)" font-size="15.3" text-anchor="start" >d)</text>
<rect x="73.60" y="360.60" width="9.40" height="9.40" fill="#4C72B0" fill-opacity="0.7"/>
<circle cx="78.4" cy="380.1" r="4.7" fill="#DD8452" fill-opacity="0.9"/>
<text transform="translate(98.60,367.70) scale(1,1.07)" font-size="11.15" text-anchor="start" >Train R<tspan font-size="8.3" dy="-4.4">2</tspan><tspan dy="4.4" dx="0.4">=0.97, RMSE=0.02, r=0.99</tspan></text>
<text transform="translate(98.60,381.90) scale(1,1.07)" font-size="11.15" text-anchor="start" >Test R<tspan font-size="8.3" dy="-4.4">2</tspan><tspan dy="4.4" dx="0.4">=0.83, RMSE=0.06, r=0.92</tspan></text>
<g clip-path="url(#clipe)">
<g fill="#4C72B0" fill-opacity="0.7">
<rect x="393.8" y="489.0" width="9.4" height="9.4"/>
<rect x="398.3" y="487.4" width="9.4" height="9.4"/>
<rect x="401.8" y="486.3" width="9.4" height="9.4"/>
<rect x="407.7" y="485.6" width="9.4" height="9.4"/>
<rect x="411.6" y="482.6" width="9.4" height="9.4"/>
<rect x="415.4" y="481.0" width="9.4" height="9.4"/>
<rect x="418.8" y="479.0" width="9.4" height="9.4"/>
<rect x="423.1" y="479.3" width="9.4" height="9.4"/>
<rect x="428.6" y="477.3" width="9.4" height="9.4"/>
<rect x="432.7" y="474.2" width="9.4" height="9.4"/>
<rect x="435.9" y="473.5" width="9.4" height="9.4"/>
<rect x="441.0" y="472.4" width="9.4" height="9.4"/>
<rect x="442.5" y="471.9" width="9.4" height="9.4"/>
<rect x="445.1" y="471.9" width="9.4" height="9.4"/>
<rect x="447.2" y="471.0" width="9.4" height="9.4"/>
<rect x="448.0" y="468.1" width="9.4" height="9.4"/>
<rect x="452.0" y="468.0" width="9.4" height="9.4"/>
<rect x="454.1" y="464.8" width="9.4" height="9.4"/>
<rect x="455.4" y="464.5" width="9.4" height="9.4"/>
<rect x="457.8" y="465.1" width="9.4" height="9.4"/>
<rect x="458.9" y="462.6" width="9.4" height="9.4"/>
<rect x="461.7" y="464.8" width="9.4" height="9.4"/>
<rect x="464.8" y="460.6" width="9.4" height="9.4"/>
<rect x="467.1" y="459.7" width="9.4" height="9.4"/>
<rect x="468.9" y="458.7" width="9.4" height="9.4"/>
<rect x="469.9" y="461.1" width="9.4" height="9.4"/>
<rect x="472.5" y="457.4" width="9.4" height="9.4"/>
<rect x="476.3" y="459.4" width="9.4" height="9.4"/>
<rect x="474.5" y="459.0" width="9.4" height="9.4"/>
<rect x="477.0" y="460.0" width="9.4" height="9.4"/>
<rect x="477.6" y="455.1" width="9.4" height="9.4"/>
<rect x="480.0" y="457.1" width="9.4" height="9.4"/>
<rect x="480.5" y="456.7" width="9.4" height="9.4"/>
<rect x="482.1" y="456.7" width="9.4" height="9.4"/>
<rect x="482.9" y="452.6" width="9.4" height="9.4"/>
<rect x="485.9" y="453.0" width="9.4" height="9.4"/>
<rect x="486.0" y="455.3" width="9.4" height="9.4"/>
<rect x="488.2" y="450.5" width="9.4" height="9.4"/>
<rect x="489.4" y="453.2" width="9.4" height="9.4"/>
<rect x="490.0" y="452.6" width="9.4" height="9.4"/>
<rect x="491.3" y="450.0" width="9.4" height="9.4"/>
<rect x="492.7" y="448.6" width="9.4" height="9.4"/>
<rect x="495.9" y="449.4" width="9.4" height="9.4"/>
<rect x="497.3" y="449.0" width="9.4" height="9.4"/>
<rect x="497.9" y="451.2" width="9.4" height="9.4"/>
<rect x="499.5" y="445.8" width="9.4" height="9.4"/>
<rect x="500.7" y="448.6" width="9.4" height="9.4"/>
<rect x="501.3" y="444.6" width="9.4" height="9.4"/>
<rect x="504.0" y="446.7" width="9.4" height="9.4"/>
<rect x="504.1" y="445.8" width="9.4" height="9.4"/>
<rect x="505.5" y="447.4" width="9.4" height="9.4"/>
<rect x="507.5" y="442.4" width="9.4" height="9.4"/>
<rect x="509.5" y="441.8" width="9.4" height="9.4"/>
<rect x="509.9" y="440.8" width="9.4" height="9.4"/>
<rect x="512.2" y="440.8" width="9.4" height="9.4"/>
<rect x="513.2" y="440.1" width="9.4" height="9.4"/>
<rect x="514.5" y="443.4" width="9.4" height="9.4"/>
<rect x="516.0" y="441.3" width="9.4" height="9.4"/>
<rect x="517.3" y="440.7" width="9.4" height="9.4"/>
<rect x="518.9" y="437.9" width="9.4" height="9.4"/>
<rect x="520.0" y="438.3" width="9.4" height="9.4"/>
<rect x="522.2" y="442.2" width="9.4" height="9.4"/>
<rect x="522.0" y="436.6" width="9.4" height="9.4"/>
<rect x="524.7" y="438.8" width="9.4" height="9.4"/>
<rect x="524.7" y="439.1" width="9.4" height="9.4"/>
<rect x="528.0" y="436.7" width="9.4" height="9.4"/>
<rect x="528.2" y="437.1" width="9.4" height="9.4"/>
<rect x="530.8" y="434.6" width="9.4" height="9.4"/>
<rect x="530.9" y="433.5" width="9.4" height="9.4"/>
<rect x="533.0" y="434.8" width="9.4" height="9.4"/>
<rect x="533.6" y="433.7" width="9.4" height="9.4"/>
<rect x="534.6" y="432.7" width="9.4" height="9.4"/>
<rect x="537.9" y="433.8" width="9.4" height="9.4"/>
<rect x="537.9" y="435.5" width="9.4" height="9.4"/>
<rect x="539.4" y="430.6" width="9.4" height="9.4"/>
<rect x="540.2" y="429.4" width="9.4" height="9.4"/>
<rect x="541.9" y="429.3" width="9.4" height="9.4"/>
<rect x="544.6" y="429.0" width="9.4" height="9.4"/>
<rect x="544.8" y="430.6" width="9.4" height="9.4"/>
<rect x="547.5" y="428.1" width="9.4" height="9.4"/>
<rect x="548.6" y="428.0" width="9.4" height="9.4"/>
<rect x="549.6" y="428.9" width="9.4" height="9.4"/>
<rect x="551.8" y="429.4" width="9.4" height="9.4"/>
<rect x="552.3" y="429.4" width="9.4" height="9.4"/>
<rect x="553.4" y="425.9" width="9.4" height="9.4"/>
<rect x="556.0" y="426.4" width="9.4" height="9.4"/>
<rect x="557.0" y="424.3" width="9.4" height="9.4"/>
<rect x="558.7" y="425.7" width="9.4" height="9.4"/>
<rect x="558.8" y="427.2" width="9.4" height="9.4"/>
<rect x="560.6" y="422.8" width="9.4" height="9.4"/>
<rect x="561.6" y="420.8" width="9.4" height="9.4"/>
<rect x="562.9" y="424.0" width="9.4" height="9.4"/>
<rect x="564.2" y="420.6" width="9.4" height="9.4"/>
<rect x="566.2" y="421.9" width="9.4" height="9.4"/>
<rect x="567.5" y="422.9" width="9.4" height="9.4"/>
<rect x="568.6" y="419.7" width="9.4" height="9.4"/>
<rect x="570.4" y="417.6" width="9.4" height="9.4"/>
<rect x="571.3" y="417.1" width="9.4" height="9.4"/>
<rect x="573.8" y="416.6" width="9.4" height="9.4"/>
<rect x="575.0" y="416.5" width="9.4" height="9.4"/>
<rect x="576.4" y="418.7" width="9.4" height="9.4"/>
<rect x="577.2" y="420.0" width="9.4" height="9.4"/>
<rect x="579.2" y="417.0" width="9.4" height="9.4"/>
<rect x="579.4" y="415.5" width="9.4" height="9.4"/>
<rect x="581.2" y="415.3" width="9.4" height="9.4"/>
<rect x="584.0" y="417.3" width="9.4" height="9.4"/>
<rect x="583.6" y="415.6" width="9.4" height="9.4"/>
<rect x="586.8" y="414.1" width="9.4" height="9.4"/>
<rect x="586.5" y="415.6" width="9.4" height="9.4"/>
<rect x="588.6" y="415.8" width="9.4" height="9.4"/>
<rect x="590.8" y="414.3" width="9.4" height="9.4"/>
<rect x="592.4" y="408.9" width="9.4" height="9.4"/>
<rect x="593.5" y="409.8" width="9.4" height="9.4"/>
<rect x="593.6" y="409.7" width="9.4" height="9.4"/>
<rect x="595.9" y="406.8" width="9.4" height="9.4"/>
<rect x="597.0" y="411.2" width="9.4" height="9.4"/>
<rect x="598.5" y="409.0" width="9.4" height="9.4"/>
<rect x="599.5" y="411.3" width="9.4" height="9.4"/>
<rect x="600.8" y="408.9" width="9.4" height="9.4"/>
<rect x="603.0" y="404.0" width="9.4" height="9.4"/>
<rect x="605.1" y="404.9" width="9.4" height="9.4"/>
<rect x="606.5" y="408.8" width="9.4" height="9.4"/>
<rect x="607.7" y="407.8" width="9.4" height="9.4"/>
<rect x="608.1" y="404.6" width="9.4" height="9.4"/>
<rect x="609.4" y="407.2" width="9.4" height="9.4"/>
<rect x="610.2" y="401.5" width="9.4" height="9.4"/>
<rect x="613.4" y="405.3" width="9.4" height="9.4"/>
<rect x="614.3" y="405.7" width="9.4" height="9.4"/>
<rect x="615.3" y="404.3" width="9.4" height="9.4"/>
<rect x="616.6" y="404.2" width="9.4" height="9.4"/>
<rect x="617.2" y="400.7" width="9.4" height="9.4"/>
<rect x="619.7" y="402.4" width="9.4" height="9.4"/>
<rect x="620.7" y="401.1" width="9.4" height="9.4"/>
<rect x="623.2" y="398.9" width="9.4" height="9.4"/>
<rect x="623.1" y="395.8" width="9.4" height="9.4"/>
<rect x="625.8" y="398.1" width="9.4" height="9.4"/>
<rect x="626.3" y="397.9" width="9.4" height="9.4"/>
<rect x="627.1" y="395.4" width="9.4" height="9.4"/>
<rect x="628.8" y="395.1" width="9.4" height="9.4"/>
<rect x="631.4" y="394.4" width="9.4" height="9.4"/>
<rect x="631.3" y="397.9" width="9.4" height="9.4"/>
<rect x="633.6" y="391.9" width="9.4" height="9.4"/>
<rect x="635.3" y="395.6" width="9.4" height="9.4"/>
<rect x="636.6" y="395.6" width="9.4" height="9.4"/>
<rect x="637.5" y="391.5" width="9.4" height="9.4"/>
<rect x="639.6" y="393.5" width="9.4" height="9.4"/>
<rect x="640.9" y="390.2" width="9.4" height="9.4"/>
<rect x="641.6" y="392.8" width="9.4" height="9.4"/>
<rect x="643.1" y="391.7" width="9.4" height="9.4"/>
<rect x="644.6" y="392.1" width="9.4" height="9.4"/>
<rect x="645.8" y="389.9" width="9.4" height="9.4"/>
<rect x="648.2" y="388.2" width="9.4" height="9.4"/>
<rect x="648.3" y="389.7" width="9.4" height="9.4"/>
<rect x="649.6" y="390.6" width="9.4" height="9.4"/>
<rect x="651.2" y="390.3" width="9.4" height="9.4"/>
<rect x="653.2" y="385.0" width="9.4" height="9.4"/>
<rect x="654.5" y="387.8" width="9.4" height="9.4"/>
<rect x="655.9" y="386.9" width="9.4" height="9.4"/>
<rect x="657.0" y="388.4" width="9.4" height="9.4"/>
<rect x="658.0" y="386.9" width="9.4" height="9.4"/>
<rect x="659.1" y="384.4" width="9.4" height="9.4"/>
<rect x="660.6" y="381.5" width="9.4" height="9.4"/>
<rect x="663.1" y="385.9" width="9.4" height="9.4"/>
<rect x="663.9" y="382.1" width="9.4" height="9.4"/>
<rect x="665.7" y="382.8" width="9.4" height="9.4"/>
<rect x="666.8" y="380.7" width="9.4" height="9.4"/>
<rect x="433.0" y="454.0" width="9.4" height="9.4"/>
<rect x="437.7" y="472.7" width="9.4" height="9.4"/>
<rect x="481.8" y="457.3" width="9.4" height="9.4"/>
<rect x="481.8" y="465.6" width="9.4" height="9.4"/>
<rect x="481.8" y="479.9" width="9.4" height="9.4"/>
<rect x="481.8" y="485.7" width="9.4" height="9.4"/>
<rect x="506.2" y="427.5" width="9.4" height="9.4"/>
<rect x="516.3" y="427.5" width="9.4" height="9.4"/>
<rect x="506.2" y="436.8" width="9.4" height="9.4"/>
<rect x="516.3" y="454.1" width="9.4" height="9.4"/>
<rect x="516.3" y="484.3" width="9.4" height="9.4"/>
<rect x="491.3" y="396.9" width="9.4" height="9.4"/>
<rect x="515.4" y="409.8" width="9.4" height="9.4"/>
<rect x="540.1" y="400.7" width="9.4" height="9.4"/>
<rect x="552.4" y="402.2" width="9.4" height="9.4"/>
<rect x="569.9" y="396.4" width="9.4" height="9.4"/>
<rect x="555.3" y="403.1" width="9.4" height="9.4"/>
<rect x="589.5" y="399.2" width="9.4" height="9.4"/>
<rect x="609.1" y="414.9" width="9.4" height="9.4"/>
<rect x="597.9" y="432.8" width="9.4" height="9.4"/>
<rect x="603.5" y="431.7" width="9.4" height="9.4"/>
<rect x="612.5" y="427.2" width="9.4" height="9.4"/>
<rect x="592.3" y="439.5" width="9.4" height="9.4"/>
<rect x="561.0" y="437.9" width="9.4" height="9.4"/>
<rect x="556.5" y="435.1" width="9.4" height="9.4"/>
<rect x="584.5" y="431.7" width="9.4" height="9.4"/>
<rect x="577.8" y="428.3" width="9.4" height="9.4"/>
<rect x="623.8" y="384.1" width="9.4" height="9.4"/>
<rect x="628.8" y="405.9" width="9.4" height="9.4"/>
<rect x="638.9" y="423.8" width="9.4" height="9.4"/>
<rect x="614.3" y="428.3" width="9.4" height="9.4"/>
<rect x="623.8" y="430.0" width="9.4" height="9.4"/>
<rect x="606.4" y="431.7" width="9.4" height="9.4"/>
<rect x="609.8" y="414.9" width="9.4" height="9.4"/>
</g>
<g fill="#DD8452" fill-opacity="0.9">
<circle cx="417.9" cy="481.5" r="5.0"/>
<circle cx="437.1" cy="461.6" r="5.0"/>
<circle cx="457.0" cy="463.9" r="5.0"/>
<circle cx="479.5" cy="465.7" r="5.0"/>
<circle cx="481.5" cy="466.0" r="5.0"/>
<circle cx="521.0" cy="422.9" r="5.0"/>
<circle cx="535.3" cy="423.6" r="5.0"/>
<circle cx="535.3" cy="430.0" r="5.0"/>
<circle cx="521.0" cy="438.0" r="5.0"/>
<circle cx="505.9" cy="448.0" r="5.0"/>
<circle cx="512.3" cy="454.5" r="5.0"/>
<circle cx="507.3" cy="455.2" r="5.0"/>
<circle cx="500.9" cy="458.0" r="5.0"/>
<circle cx="530.3" cy="450.2" r="5.0"/>
<circle cx="521.0" cy="463.8" r="5.0"/>
<circle cx="545.4" cy="452.3" r="5.0"/>
<circle cx="550.4" cy="449.4" r="5.0"/>
<circle cx="550.4" cy="436.5" r="5.0"/>
<circle cx="520.5" cy="423.0" r="5.0"/>
<circle cx="558.0" cy="407.8" r="5.0"/>
<circle cx="559.5" cy="407.3" r="5.0"/>
<circle cx="574.1" cy="410.6" r="5.0"/>
<circle cx="574.1" cy="420.7" r="5.0"/>
<circle cx="559.5" cy="426.3" r="5.0"/>
<circle cx="580.2" cy="412.9" r="5.0"/>
<circle cx="588.6" cy="406.7" r="5.0"/>
<circle cx="594.2" cy="409.5" r="5.0"/>
<circle cx="588.6" cy="426.3" r="5.0"/>
<circle cx="598.7" cy="423.0" r="5.0"/>
<circle cx="603.8" cy="404.5" r="5.0"/>
<circle cx="607.7" cy="410.1" r="5.0"/>
<circle cx="613.3" cy="410.6" r="5.0"/>
<circle cx="628.5" cy="393.3" r="5.0"/>
<circle cx="628.5" cy="403.9" r="5.0"/>
<circle cx="638.5" cy="395.5" r="5.0"/>
<circle cx="638.5" cy="419.0" r="5.0"/>
<circle cx="653.1" cy="391.0" r="5.0"/>
<circle cx="658.1" cy="390.5" r="5.0"/>
<circle cx="560.0" cy="460.0" r="5.0"/>
</g>
<line x1="398.0" y1="495.0" x2="672.6" y2="386.0" stroke="#000" stroke-width="2.1" stroke-linecap="round" stroke-dasharray="4.1 5.02" stroke-dashoffset="-0.8"/>
</g>
<rect x="635.40" y="444.90" width="4.20" height="32.70" fill="#4C72B0" fill-opacity="0.7" stroke="#fff" stroke-width="0.5" stroke-opacity="0.85"/>
<rect x="621.50" y="475.00" width="1.50" height="2.60" fill="#DD8452" fill-opacity="0.75" stroke="#fff" stroke-width="0.5" stroke-opacity="0.85"/>
<rect x="624.60" y="475.00" width="1.40" height="2.60" fill="#DD8452" fill-opacity="0.75" stroke="#fff" stroke-width="0.5" stroke-opacity="0.85"/>
<rect x="627.30" y="469.80" width="1.70" height="7.80" fill="#DD8452" fill-opacity="0.75" stroke="#fff" stroke-width="0.5" stroke-opacity="0.85"/>
<rect x="630.50" y="463.30" width="1.50" height="14.30" fill="#DD8452" fill-opacity="0.75" stroke="#fff" stroke-width="0.5" stroke-opacity="0.85"/>
<rect x="633.60" y="461.90" width="1.60" height="15.70" fill="#DD8452" fill-opacity="0.75" stroke="#fff" stroke-width="0.5" stroke-opacity="0.85"/>
<rect x="636.50" y="468.20" width="1.70" height="9.40" fill="#DD8452" fill-opacity="0.75" stroke="#fff" stroke-width="0.5" stroke-opacity="0.85"/>
<rect x="639.60" y="472.00" width="1.50" height="5.60" fill="#DD8452" fill-opacity="0.75" stroke="#fff" stroke-width="0.5" stroke-opacity="0.85"/>
<rect x="645.30" y="472.00" width="1.70" height="5.60" fill="#DD8452" fill-opacity="0.75" stroke="#fff" stroke-width="0.5" stroke-opacity="0.85"/>
<rect x="651.70" y="476.40" width="1.00" height="1.20" fill="#DD8452" fill-opacity="0.75" stroke="#fff" stroke-width="0.5" stroke-opacity="0.85"/>
<line x1="600.70" y1="477.60" x2="670.30" y2="477.60" stroke="#404040" stroke-width="1.6" />
<line x1="610.90" y1="477.60" x2="610.90" y2="480.80" stroke="#262626" stroke-width="0.9" />
<text transform="translate(610.90,486.00) scale(1,1.07)" font-size="9" text-anchor="middle" >-0.2</text>
<line x1="635.40" y1="477.60" x2="635.40" y2="480.80" stroke="#262626" stroke-width="0.9" />
<text transform="translate(635.40,486.00) scale(1,1.07)" font-size="9" text-anchor="middle" >0.0</text>
<line x1="660.10" y1="477.60" x2="660.10" y2="480.80" stroke="#262626" stroke-width="0.9" />
<text transform="translate(660.10,486.00) scale(1,1.07)" font-size="9" text-anchor="middle" >0.2</text>
<text transform="translate(635.20,493.60) scale(1,1.07)" font-size="9.2" text-anchor="middle" >Error</text>
<rect x="398.0" y="386.0" width="274.60" height="109.00" fill="none" stroke="#262626" stroke-width="1.5"/>
<line x1="398.00" y1="495.00" x2="398.00" y2="501.60" stroke="#262626" stroke-width="1.5" />
<line x1="391.40" y1="495.00" x2="398.00" y2="495.00" stroke="#262626" stroke-width="1.5" />
<text transform="translate(398.00,515.80) scale(1,1.07)" font-size="13" text-anchor="middle" >0.2</text>
<text transform="translate(387.50,499.90) scale(1,1.07)" font-size="13" text-anchor="end" >0.2</text>
<line x1="466.65" y1="495.00" x2="466.65" y2="501.60" stroke="#262626" stroke-width="1.5" />
<line x1="391.40" y1="467.75" x2="398.00" y2="467.75" stroke="#262626" stroke-width="1.5" />
<text transform="translate(466.65,515.80) scale(1,1.07)" font-size="13" text-anchor="middle" >0.3</text>
<text transform="translate(387.50,472.65) scale(1,1.07)" font-size="13" text-anchor="end" >0.3</text>
<line x1="535.30" y1="495.00" x2="535.30" y2="501.60" stroke="#262626" stroke-width="1.5" />
<line x1="391.40" y1="440.50" x2="398.00" y2="440.50" stroke="#262626" stroke-width="1.5" />
<text transform="translate(535.30,515.80) scale(1,1.07)" font-size="13" text-anchor="middle" >0.5</text>
<text transform="translate(387.50,445.40) scale(1,1.07)" font-size="13" text-anchor="end" >0.5</text>
<line x1="603.95" y1="495.00" x2="603.95" y2="501.60" stroke="#262626" stroke-width="1.5" />
<line x1="391.40" y1="413.25" x2="398.00" y2="413.25" stroke="#262626" stroke-width="1.5" />
<text transform="translate(603.95,515.80) scale(1,1.07)" font-size="13" text-anchor="middle" >0.6</text>
<text transform="translate(387.50,418.15) scale(1,1.07)" font-size="13" text-anchor="end" >0.6</text>
<line x1="672.60" y1="495.00" x2="672.60" y2="501.60" stroke="#262626" stroke-width="1.5" />
<line x1="391.40" y1="386.00" x2="398.00" y2="386.00" stroke="#262626" stroke-width="1.5" />
<text transform="translate(672.60,515.80) scale(1,1.07)" font-size="13" text-anchor="middle" >0.8</text>
<text transform="translate(387.50,390.90) scale(1,1.07)" font-size="13" text-anchor="end" >0.8</text>
<text transform="translate(535.30,533.60) scale(1,1.07)" font-size="15.5" text-anchor="middle" >Predicted FF</text>
<text x="0.00" y="0.00" font-size="15.5" text-anchor="middle" transform="translate(360.4,440.5) rotate(-90) scale(1,1.07)">FF</text>
<text transform="translate(530.80,398.80) scale(1,1.07)" font-size="15.3" text-anchor="start" >e)</text>
<rect x="422.40" y="360.60" width="9.40" height="9.40" fill="#4C72B0" fill-opacity="0.7"/>
<circle cx="427.2" cy="380.1" r="4.7" fill="#DD8452" fill-opacity="0.9"/>
<text transform="translate(447.40,367.70) scale(1,1.07)" font-size="11.15" text-anchor="start" >Train R<tspan font-size="8.3" dy="-4.4">2</tspan><tspan dy="4.4" dx="0.4">=0.9, RMSE=0.04, r=0.95</tspan></text>
<text transform="translate(447.40,381.90) scale(1,1.07)" font-size="11.15" text-anchor="start" >Test R<tspan font-size="8.3" dy="-4.4">2</tspan><tspan dy="4.4" dx="0.4">=0.81, RMSE=0.06, r=0.9</tspan></text>
</svg>
</body></html>
